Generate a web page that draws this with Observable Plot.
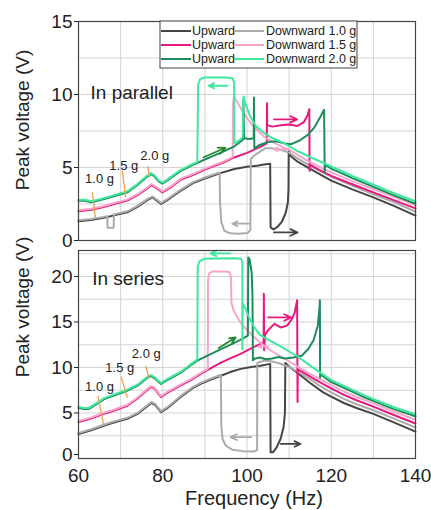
<!DOCTYPE html>
<html>
<head>
<meta charset="utf-8">
<script src="https://cdn.jsdelivr.net/npm/d3@7"></script>
<script src="https://cdn.jsdelivr.net/npm/@observablehq/plot@0.6"></script>
<style>
  html, body { margin: 0; padding: 0; background: #fff; }
  #fig { position: relative; width: 431px; height: 510px; font-family: "Liberation Sans", Arial, sans-serif; }
  #fig > svg, #fig > div { position: absolute; left: 0; }
</style>
</head>
<body>
<div id="fig"></div>
<script>
// ---------- axis / tick values ----------
const xMajor = [60, 80, 100, 120, 140];
const xGrid = [70, 80, 90, 100, 110, 120, 130];
const yTicksTop = [0, 5, 10, 15];
const yGridTop = [2.5, 5, 7.5, 10, 12.5];
const yTicksBot = [5, 10, 15, 20];
const yTickBotZero = [0];
const yGridBot = [2.5, 5, 7.5, 10, 12.5, 15, 17.5, 20, 22.5];

// ---------- series names ----------
const seriesKeys = ["up10", "down10", "up15", "down15", "up20", "down20"];
const legendRows = [
  { up: "Upward", down: "Downward 1.0 g", upKey: "up10", downKey: "down10" },
  { up: "Upward", down: "Downward 1.5 g", upKey: "up15", downKey: "down15" },
  { up: "Upward", down: "Downward 2.0 g", upKey: "up20", downKey: "down20" }
];

// ---------- TOP PANEL (in parallel) : [frequency Hz, peak voltage V] ----------
const topGrayMain = [[60,1.32],[63,1.4],[66,1.55],[68.4,1.72],[71.6,1.93],[74,2.3],[76.5,2.8],[77.6,2.95],[78.5,2.75],[79.6,2.5],[81,2.75],[84.2,3.4],[87.3,3.95],[90,4.25],[93.5,4.6]];
const topUp10Branch = [[97,4.9],[100,5.05],[102.4,5.12],[104,5.2],[105.5,5.25],[105.6,0.9],[106.3,0.75],[107.3,0.95],[108.3,1.3],[109.2,1.9],[109.7,2.6],[109.85,3.5],[109.9,6.15],[110.3,5.8],[112,5.4],[115,4.9],[120,4.1],[125,3.5],[130,2.95],[135,2.35],[140,1.7]];
const topDown10Branch = [[140,1.9],[135,2.55],[130,3.1],[125,3.7],[120,4.3],[115,5.05],[112,5.55],[110,5.95],[108,6.15],[106,6.25],[104.4,6.25],[103,6.0],[101.5,5.7],[100.9,5.5],[100.8,0.65],[100.2,0.45],[98,0.4],[96,0.42],[94.6,0.6],[93.9,1.2],[93.6,2.5],[93.5,4.6]];
const topDown10Left = [[90,4.25],[87.3,3.95],[84.2,3.4],[81,2.75],[79.6,2.5],[78.5,2.75],[77.6,2.95],[76.5,2.8],[74,2.3],[71.6,1.93],[68.4,1.72],[68.35,0.8],[66.9,0.8],[66.85,1.6],[66,1.55],[63,1.4],[60,1.32]];

const topPinkMain = [[60,2.0],[63,2.1],[66,2.3],[68.5,2.5],[71.6,2.73],[74,3.1],[76.5,3.6],[77.3,3.8],[78.2,3.65],[79.9,3.3],[82,3.65],[84.2,4.15],[87.3,4.5],[90,4.85],[94.5,5.35],[96.6,5.65]];
const topUp15Branch = [[100,6.0],[103,6.4],[104.7,6.65],[104.75,9.4],[104.8,7.9],[106,7.8],[108,7.9],[110,7.95],[112,7.85],[113.5,8.1],[114.4,8.6],[114.8,9.0],[114.85,4.77],[114.95,5.2],[117,4.85],[120,4.43],[125,3.85],[130,3.3],[135,2.75],[140,2.2]];
const topDown15Branch = [[140,2.35],[135,2.9],[130,3.45],[125,4.0],[120,4.6],[117,5.0],[114,5.45],[112,5.8],[110,6.15],[108,6.4],[106,6.7],[104,7.05],[102,7.6],[100,8.3],[98.5,9.0],[97.3,9.6],[96.9,9.8],[96.7,9.3],[96.6,5.65]];

const topGreenMain = [[60,2.73],[61.5,2.72],[63,2.62],[65,2.75],[68,3.0],[71.6,3.3],[74,3.8],[76.2,4.35],[77.2,4.55],[78,4.4],[79,4.05],[79.9,3.9],[81,4.1],[84.2,4.75],[87.3,5.2],[88.2,5.3]];
const topUp20Branch = [[90,5.55],[92,5.8],[94.5,6.1],[97,6.45],[98.8,6.85],[99.1,6.95],[99.15,9.6],[99.3,7.0],[100.5,6.95],[101.6,7.0],[101.65,9.8],[101.75,6.3],[103,6.55],[105,6.75],[107,6.8],[109,6.65],[110.5,6.6],[112.5,6.85],[114.5,7.25],[116,7.75],[117.3,8.4],[118.3,8.95],[118.45,4.66],[118.55,5.2],[120,4.92],[125,4.27],[130,3.67],[135,3.07],[140,2.52]];
const topDown20Branch = [[140,2.62],[135,3.15],[130,3.75],[125,4.35],[120,5.0],[115,5.65],[112,6.05],[110,6.4],[108,6.7],[106,6.95],[104,7.3],[102,7.8],[100.8,8.4],[99.6,9.3],[99.2,9.8],[99.05,9.0],[99.0,7.0],[98,6.75],[97.0,6.6],[96.95,10.7],[96.6,11.05],[95,11.1],[90,11.1],[88.9,11.0],[88.4,10.6],[88.2,5.3]];

// ---------- BOTTOM PANEL (in series) ----------
const botGrayMain = [[60,2.7],[63,3.1],[66,3.6],[68,3.9],[71.6,4.36],[74,4.9],[76.5,5.8],[77.3,6.1],[78.2,5.9],[79.6,5.1],[81,5.5],[84.2,6.74],[87,7.7],[89,8.2],[91,8.6],[93.8,9.1]];
const botUp10Branch = [[96,9.5],[98.5,9.85],[101,10.05],[103.2,10.2],[105.5,10.4],[105.6,0.7],[106.2,0.7],[107,1.2],[108,2.2],[108.7,3.5],[109.0,5.0],[109.1,10.5],[110,10.1],[112,9.4],[115,8.3],[118,7.3],[120,6.8],[123,6.1],[126,5.55],[130,4.9],[135,3.95],[140,2.95]];
const botDown10Branch = [[140,3.3],[135,4.25],[130,5.2],[126,5.85],[123,6.45],[120,7.15],[117,7.95],[115,8.6],[112,9.45],[110,9.95],[108,10.3],[106,10.55],[104.4,10.65],[103,10.5],[102.45,10.4],[102.4,0.8],[101.5,0.65],[99,0.7],[96.5,0.85],[95,1.3],[94.2,2.0],[93.9,3.5],[93.8,9.1]];

const botPinkMain = [[60,4.0],[63,4.4],[66,4.9],[68,5.2],[71.6,5.8],[74,6.6],[76.5,7.6],[77.2,7.85],[78,7.7],[79.6,6.74],[81,7.2],[84.2,8.0],[87,8.7],[89,9.3],[90.7,9.75]];
const botUp15Branch = [[93.7,10.5],[96,11.0],[98.5,11.5],[100.5,12.0],[103.2,12.6],[103.95,12.75],[104.0,18.1],[104.05,11.9],[104.3,13.6],[105,14.1],[106.5,14.8],[108,14.4],[109.5,14.6],[110.5,15.2],[111.3,16.0],[111.9,17.4],[112.0,6.2],[112.05,9.8],[113,9.55],[115,9.0],[118,8.2],[120,7.7],[123,7.0],[126,6.4],[130,5.7],[135,4.75],[140,3.85]];
const botDown15Branch = [[140,4.15],[135,5.0],[130,5.95],[126,6.65],[123,7.25],[120,7.95],[118,8.45],[115,9.2],[112,10.0],[110,10.55],[108,11.1],[106,11.65],[104,12.3],[102,13.1],[100,14.0],[98.5,14.8],[97.6,15.5],[96.8,16.2],[96.3,17.0],[96.2,19.8],[95.9,20.35],[95,20.45],[91.8,20.45],[91.0,20.2],[90.75,19.5],[90.7,9.75]];

const botGreenMain = [[60,5.57],[61.2,5.45],[62.5,5.45],[64,5.9],[66,6.5],[68,6.85],[71.6,7.45],[74,8.0],[76.3,8.85],[77.1,9.05],[78,8.85],[79.6,8.2],[81,8.6],[84.2,9.4],[86.5,10.2],[88.2,10.75]];
const botUp20Branch = [[91,11.4],[93.7,12.0],[96.5,12.6],[98.9,13.15],[100.2,13.5],[100.3,22.1],[100.6,21.9],[101.1,20.5],[101.3,18],[101.4,10.8],[102,11.0],[103,11.1],[104.5,10.9],[106,11.0],[107.5,11.15],[109,11.0],[111,11.1],[113,11.3],[114.5,12.0],[115.8,13.0],[116.8,14.6],[117.2,16.5],[117.3,17.4],[117.35,8.9],[117.45,9.25],[120,8.4],[123.8,7.6],[128,6.7],[131.7,6.0],[135,5.4],[140,4.65]];
const botDown20Branch = [[140,4.75],[135,5.5],[131.7,6.1],[128,6.8],[123.8,7.7],[120,8.5],[117.5,9.3],[115,10.1],[112,11.1],[108,12.2],[104.8,13.0],[103,13.5],[101.6,14.4],[100.5,15.4],[99.6,16.4],[99.0,16.9],[98.9,11.9],[98.9,21.4],[98.6,21.85],[97,21.9],[90,21.85],[88.8,21.6],[88.3,21.0],[88.2,10.75]];

// ---------- arrows ----------
const arrowsTop = [
  { key: "up10", f1: 106.4, v1: 0.55, f2: 112.0, v2: 0.55 },
  { key: "down10", f1: 100.5, v1: 1.15, f2: 96.5, v2: 1.15 },
  { key: "down20", f1: 95.3, v1: 10.6, f2: 90.9, v2: 10.6 },
  { key: "arrowGreen", f1: 89.7, v1: 5.7, f2: 94.9, v2: 6.35 },
  { key: "up15", f1: 106.4, v1: 8.3, f2: 111.9, v2: 8.3 },
  { key: "down15", f1: 109.3, v1: 6.25, f2: 106.3, v2: 6.25 }
];
const arrowsBot = [
  { key: "up10", f1: 108.0, v1: 1.6, f2: 112.7, v2: 1.6 },
  { key: "down10", f1: 101.0, v1: 2.35, f2: 96.1, v2: 2.35 },
  { key: "down20", f1: 96.1, v1: 22.55, f2: 91.3, v2: 22.55 },
  { key: "arrowGreen", f1: 93.3, v1: 12.15, f2: 97.3, v2: 13.3 },
  { key: "up15", f1: 105.0, v1: 15.5, f2: 110.5, v2: 15.5 },
  { key: "down15", f1: 105.1, v1: 12.3, f2: 102.7, v2: 12.3 }
];

// ---------- acceleration labels ----------
const gLabels = ["1.0 g", "1.5 g", "2.0 g"];
const gMarksTop = [
  { text: gLabels[0], f: 65.0, v: 4.23, f1: 63.3, v1: 3.3, f2: 64.0, v2: 1.55 },
  { text: gLabels[1], f: 70.75, v: 5.1, f1: 70.4, v1: 4.77, f2: 71.2, v2: 2.95 },
  { text: gLabels[2], f: 78.1, v: 5.8, f1: 76.4, v1: 5.1, f2: 76.9, v2: 4.3 }
];
const gMarksBot = [
  { text: gLabels[0], f: 65.0, v: 7.93, f1: 64.6, v1: 6.9, f2: 66.0, v2: 3.6 },
  { text: gLabels[1], f: 69.8, v: 9.95, f1: 70.1, v1: 9.0, f2: 71.6, v2: 6.7 },
  { text: gLabels[2], f: 76.1, v: 11.55, f1: 75.9, v1: 10.2, f2: 76.7, v2: 8.9 }
];
const panelTitles = [
  { text: "In parallel", f: 62.85, v: 10.1 },
  { text: "In series", f: 63.25, v: 19.7 }
];

// ---------- styles ----------
const colors = {
  up10: "#454545", down10: "#ababab",
  up15: "#e8197e", down15: "#f7a6c9",
  up20: "#1d8c5c", down20: "#3fe89c",
  arrowGreen: "#23862f"
};
const orange = "#f2a24a";
const fontFamily = "'Liberation Sans', Arial, Helvetica, sans-serif";

// ---------- assemble paths (sweep order) ----------
const rev = a => [...a].reverse();
const topSeries = {
  up10: [...topGrayMain, ...topUp10Branch],
  down10: [...topDown10Branch, ...topDown10Left],
  up15: [...topPinkMain, ...topUp15Branch],
  down15: [...topDown15Branch, ...rev(topPinkMain)],
  up20: [...topGreenMain, ...topUp20Branch],
  down20: [...topDown20Branch, ...rev(topGreenMain)]
};
const botSeries = {
  up10: [...botGrayMain, ...botUp10Branch],
  down10: [...botDown10Branch, ...rev(botGrayMain)],
  up15: [...botPinkMain, ...botUp15Branch],
  down15: [...botDown15Branch, ...rev(botPinkMain)],
  up20: [...botGreenMain, ...botUp20Branch],
  down20: [...botDown20Branch, ...rev(botGreenMain)]
};

function seriesMarks(series) {
  return seriesKeys.map(k => Plot.line(series[k], {
    x: d => d[0], y: d => d[1],
    stroke: colors[k], strokeWidth: 2,
    strokeLinejoin: "round", strokeLinecap: "round",
    dy: k.startsWith("down") ? -1 : 0
  }));
}
function arrowMarks(arrows) {
  return Plot.arrow(arrows, {
    x1: "f1", y1: "v1", x2: "f2", y2: "v2",
    stroke: d => colors[d.key], strokeWidth: 1.8, headLength: 7, headAngle: 50
  });
}
function gMarks(list) {
  return [
    Plot.link(list, { x1: "f1", y1: "v1", x2: "f2", y2: "v2", stroke: orange, strokeWidth: 1.3 }),
    Plot.text(list, { x: "f", y: "v", text: "text", fontSize: 13, fill: "#222", textAnchor: "middle" })
  ];
}

const common = {
  width: 431,
  marginLeft: 78,
  marginRight: 16,
  x: { domain: [60, 140] },
  style: { fontFamily, fontSize: "19px", color: "#222", background: "transparent", overflow: "visible" }
};

const topPlot = Plot.plot({
  ...common,
  height: 245,
  marginTop: 21,
  marginBottom: 5,
  y: { domain: [0, 15] },
  marks: [
    Plot.gridX(xGrid, { stroke: "#d4d4d4", strokeOpacity: 1 }),
    Plot.gridY(yGridTop, { stroke: "#d4d4d4", strokeOpacity: 1 }),
    Plot.axisY(yTicksTop, { tickSize: 4, tickPadding: 2, label: null, fontSize: 19 }),
    Plot.axisX([], { label: null }),
    ...seriesMarks(topSeries),
    arrowMarks(arrowsTop),
    ...gMarks(gMarksTop),
    Plot.text([panelTitles[0]], { x: "f", y: "v", text: "text", fontSize: 19, textAnchor: "start", fill: "#222" }),
    Plot.frame({ stroke: "#444", strokeWidth: 1.2 })
  ]
});
topPlot.style.top = "0px";

const bottomPlot = Plot.plot({
  ...common,
  height: 262,
  marginTop: 2,
  marginBottom: 52,
  y: { domain: [0, 22.86] },
  marks: [
    Plot.gridX(xGrid, { stroke: "#d4d4d4", strokeOpacity: 1 }),
    Plot.gridY(yGridBot, { stroke: "#d4d4d4", strokeOpacity: 1 }),
    Plot.axisY(yTicksBot, { tickSize: 4, tickPadding: 2, label: null, fontSize: 19 }),
    Plot.axisY(yTickBotZero, { tickSize: 4, tickPadding: 2, label: null, fontSize: 19, textStroke: "none", dy: -4 }),
    Plot.axisX(xMajor, { tickSize: 0, tickPadding: 10, label: null, fontSize: 19 }),
    ...seriesMarks(botSeries),
    arrowMarks(arrowsBot),
    ...gMarks(gMarksBot),
    Plot.text([panelTitles[1]], { x: "f", y: "v", text: "text", fontSize: 19, textAnchor: "start", fill: "#222" }),
    Plot.frame({ stroke: "#444", strokeWidth: 1.2 })
  ]
});
bottomPlot.style.top = "248px";

const fig = document.getElementById("fig");
fig.appendChild(topPlot);
fig.appendChild(bottomPlot);

// ---------- overlay: axis titles and legend ----------
const ov = d3.select(fig).append("svg")
  .attr("width", 431).attr("height", 510)
  .style("position", "absolute").style("left", "0px").style("top", "0px")
  .style("font-family", fontFamily);

const yTitle = "Peak voltage (V)";
[[22, 120], [22, 307]].forEach(([cx, cy]) => {
  ov.append("text").attr("transform", `translate(${cx},${cy}) rotate(-90)`)
    .attr("text-anchor", "middle").attr("dominant-baseline", "central")
    .attr("font-size", 19).attr("fill", "#222").text(yTitle);
});
ov.append("text").attr("x", 254).attr("y", 498)
  .attr("text-anchor", "middle").attr("dominant-baseline", "central")
  .attr("font-size", 20).attr("fill", "#222").text("Frequency (Hz)");

const lg = ov.append("g").attr("transform", "translate(160,21)");
lg.append("rect").attr("width", 197).attr("height", 47).attr("fill", "#fff").attr("stroke", "#444").attr("stroke-width", 1);
legendRows.forEach((r, i) => {
  const y = 10 + i * 14;
  lg.append("line").attr("x1", 1).attr("x2", 31).attr("y1", y).attr("y2", y).attr("stroke", colors[r.upKey]).attr("stroke-width", 2);
  lg.append("text").attr("x", 32).attr("y", y).attr("dominant-baseline", "central").attr("font-size", 12.5).attr("fill", "#222").text(r.up);
  lg.append("line").attr("x1", 74).attr("x2", 104).attr("y1", y).attr("y2", y).attr("stroke", colors[r.downKey]).attr("stroke-width", 2);
  lg.append("text").attr("x", 106).attr("y", y).attr("dominant-baseline", "central").attr("font-size", 12.5).attr("fill", "#222").text(r.down);
});
</script>
</body>
</html>
